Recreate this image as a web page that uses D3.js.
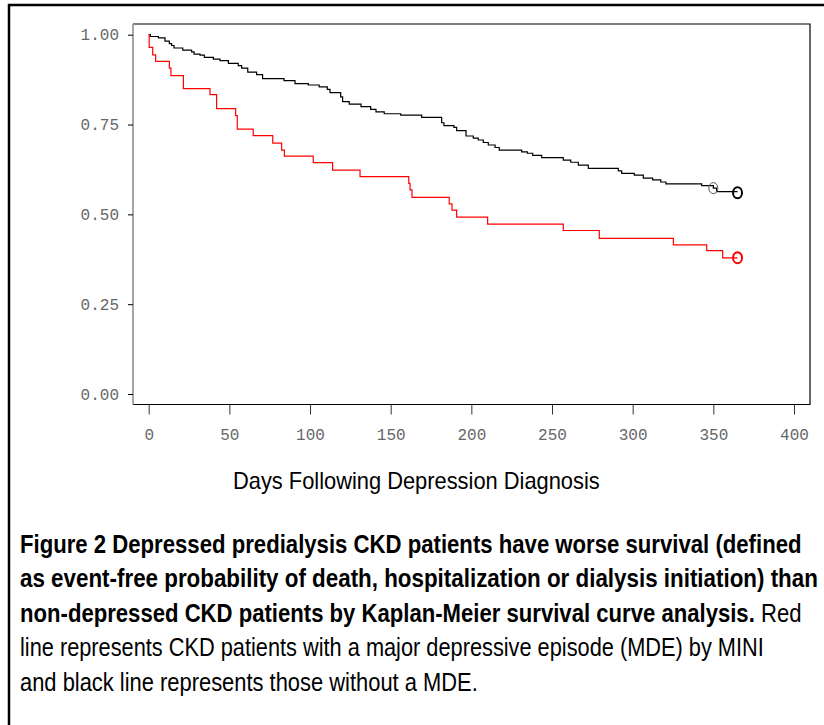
<!DOCTYPE html>
<html>
<head>
<meta charset="utf-8">
<script src="https://cdn.jsdelivr.net/npm/d3@7"></script>
<style>
  body { margin: 0; background: #fff; }
  svg { display: block; }
</style>
</head>
<body>
<script>
// Kaplan-Meier steps: [day, survival after the event]
var noMde = [
  [0, 1.0], [1, 0.995], [6.0, 0.991], [10.1, 0.982], [12.8, 0.975], [14.2, 0.970],
  [15.7, 0.963], [21.1, 0.957], [26.6, 0.952], [28.1, 0.946], [31.8, 0.943],
  [34.5, 0.937], [40.1, 0.932], [44.2, 0.928], [49.4, 0.920], [55.5, 0.914],
  [57.6, 0.907], [61.4, 0.896], [66.9, 0.889], [70.6, 0.878], [83.9, 0.872],
  [90.7, 0.864], [98.9, 0.860], [105.7, 0.855], [110.7, 0.848], [112.4, 0.839],
  [119.0, 0.827], [120.2, 0.814], [124.3, 0.807], [131.6, 0.800], [137.6, 0.792],
  [140.9, 0.785], [146.0, 0.780], [156.2, 0.776], [169.2, 0.770], [181.6, 0.755],
  [183.0, 0.747], [189.2, 0.742], [190.9, 0.733], [196.7, 0.718], [201.2, 0.712],
  [204.3, 0.707], [207.4, 0.700], [210.5, 0.693], [214.7, 0.686], [217.3, 0.679],
  [231.2, 0.674], [234.7, 0.670], [238.0, 0.664], [243.6, 0.658], [257.0, 0.651],
  [261.6, 0.645], [266.3, 0.637], [272.5, 0.628], [291.1, 0.621], [293.2, 0.614],
  [301.0, 0.609], [306.6, 0.601], [312.4, 0.596], [317.4, 0.590], [320.6, 0.585],
  [342.8, 0.580], [350.0, 0.573], [352.0, 0.563], [365.0, 0.563]
];
var mde = [
  [0, 1.0], [0.3, 0.965], [2.5, 0.944], [4.3, 0.926], [12.8, 0.907], [13.8, 0.886],
  [21.5, 0.850], [38.0, 0.833], [42.1, 0.794], [53.9, 0.775], [54.9, 0.737],
  [64.8, 0.719], [76.9, 0.698], [82.4, 0.679], [84.1, 0.662], [102.0, 0.644],
  [114.0, 0.623], [131.0, 0.605], [161.2, 0.586], [162.0, 0.568], [163.2, 0.547],
  [186.3, 0.529], [188.0, 0.512], [190.9, 0.492], [210.1, 0.473], [257.0, 0.455],
  [279.3, 0.433], [325.2, 0.415], [345.9, 0.399], [355.8, 0.379], [365.0, 0.379]
];
// censored observations (circles): [day, survival, weight]
var noMdeCensored = [[350.0, 0.573, 1], [365.0, 0.560, 2]];
var mdeCensored = [[365.0, 0.379, 2]];

var xTicks = [0, 50, 100, 150, 200, 250, 300, 350, 400];
var yTicks = [0, 0.25, 0.5, 0.75, 1.0];

var xTitle = "Days Following Depression Diagnosis";
var captionLines = [
  { bold: "Figure 2 Depressed predialysis CKD patients have worse survival (defined", normal: "", width: 782 },
  { bold: "as event-free probability of death, hospitalization or dialysis initiation) than", normal: "", width: 798 },
  { bold: "non-depressed CKD patients by Kaplan-Meier survival curve analysis.", normal: " Red", width: 782 },
  { bold: "", normal: "line represents CKD patients with a major depressive episode (MDE) by MINI", width: 744 },
  { bold: "", normal: "and black line represents those without a MDE.", width: 458 }
];

var svg = d3.select("body").append("svg")
    .attr("width", 824)
    .attr("height", 725);

// outer figure frame (only top and left edges show)
svg.append("rect")
    .attr("x", 9).attr("y", 5)
    .attr("width", 840).attr("height", 760)
    .attr("fill", "none")
    .attr("stroke", "#000")
    .attr("stroke-width", 2.5);

var x = d3.scaleLinear().domain([0, 400]).range([148.7, 794]);
var y = d3.scaleLinear().domain([0, 1]).range([394, 34.7]);

var plotL = 133, plotR = 810, plotT = 24, plotB = 404.5;

// plot box: top, right and bottom black, left gray
svg.append("path")
    .attr("d", "M" + plotL + "," + plotT + "H" + plotR + "V" + plotB + "H" + plotL)
    .attr("fill", "none")
    .attr("stroke", "#000")
    .attr("stroke-width", 1.2);
svg.append("line")
    .attr("x1", plotL).attr("x2", plotL)
    .attr("y1", plotT).attr("y2", plotB)
    .attr("stroke", "#888")
    .attr("stroke-width", 1.5);

var tickFont = "'Liberation Mono', 'DejaVu Sans Mono', monospace";

// y axis
var yAxis = svg.append("g")
    .attr("transform", "translate(" + plotL + ",0)")
    .call(d3.axisLeft(y).tickValues(yTicks).tickSize(5).tickPadding(9)
        .tickFormat(d3.format(".2f")));
yAxis.select(".domain").remove();
yAxis.selectAll("line").attr("stroke", "#000");
yAxis.selectAll("text")
    .attr("font-family", tickFont)
    .attr("font-size", 16)
    .attr("fill", "#666");

// x axis
var xAxis = svg.append("g")
    .attr("transform", "translate(0," + plotB + ")")
    .call(d3.axisBottom(x).tickValues(xTicks).tickSize(10).tickPadding(14)
        .tickFormat(d3.format("d")));
xAxis.select(".domain").remove();
xAxis.selectAll("line").attr("stroke", "#333");
xAxis.selectAll("text")
    .attr("font-family", tickFont)
    .attr("font-size", 16)
    .attr("fill", "#666");

// survival curves
var line = d3.line()
    .x(function(d) { return x(d[0]); })
    .y(function(d) { return y(d[1]); })
    .curve(d3.curveStepAfter);

svg.append("path")
    .datum(noMde)
    .attr("d", line)
    .attr("fill", "none")
    .attr("stroke", "#000")
    .attr("stroke-width", 1.2);

svg.append("path")
    .datum(mde)
    .attr("d", line)
    .attr("fill", "none")
    .attr("stroke", "#ff0000")
    .attr("stroke-width", 1.2);

function drawCensored(data, color) {
    svg.append("g").selectAll("ellipse")
        .data(data)
        .enter().append("ellipse")
        .attr("cx", function(d) { return x(d[0]); })
        .attr("cy", function(d) { return y(d[1]); })
        .attr("rx", 4.5)
        .attr("ry", 5.5)
        .attr("fill", "none")
        .attr("stroke", function(d) { return d[2] > 1 ? color : "#555"; })
        .attr("stroke-width", function(d) { return d[2] > 1 ? 2 : 1; });
}
drawCensored(noMdeCensored, "#000");
drawCensored(mdeCensored, "#ff0000");

// squeeze a text element horizontally to a target width
function fitWidth(sel, x0, width) {
    var w = sel.node().getComputedTextLength();
    var k = width / w;
    sel.attr("transform", "translate(" + x0 + ",0) scale(" + k + ",1)");
}

var title = svg.append("text")
    .attr("x", 0).attr("y", 489)
    .attr("font-family", "'Liberation Sans', Arial, sans-serif")
    .attr("font-size", 24)
    .attr("fill", "#000")
    .text(xTitle);
fitWidth(title, 233, 367);

captionLines.forEach(function(c, i) {
    var t = svg.append("text")
        .attr("x", 0).attr("y", 553 + i * 34.5)
        .attr("font-family", "'Liberation Sans Narrow', 'Liberation Sans', Arial, sans-serif")
        .attr("font-size", 26)
        .attr("fill", "#000");
    if (c.bold) t.append("tspan").attr("font-weight", "bold").text(c.bold);
    if (c.normal) t.append("tspan").text(c.normal);
    fitWidth(t, 20, c.width);
});
</script>
</body>
</html>
